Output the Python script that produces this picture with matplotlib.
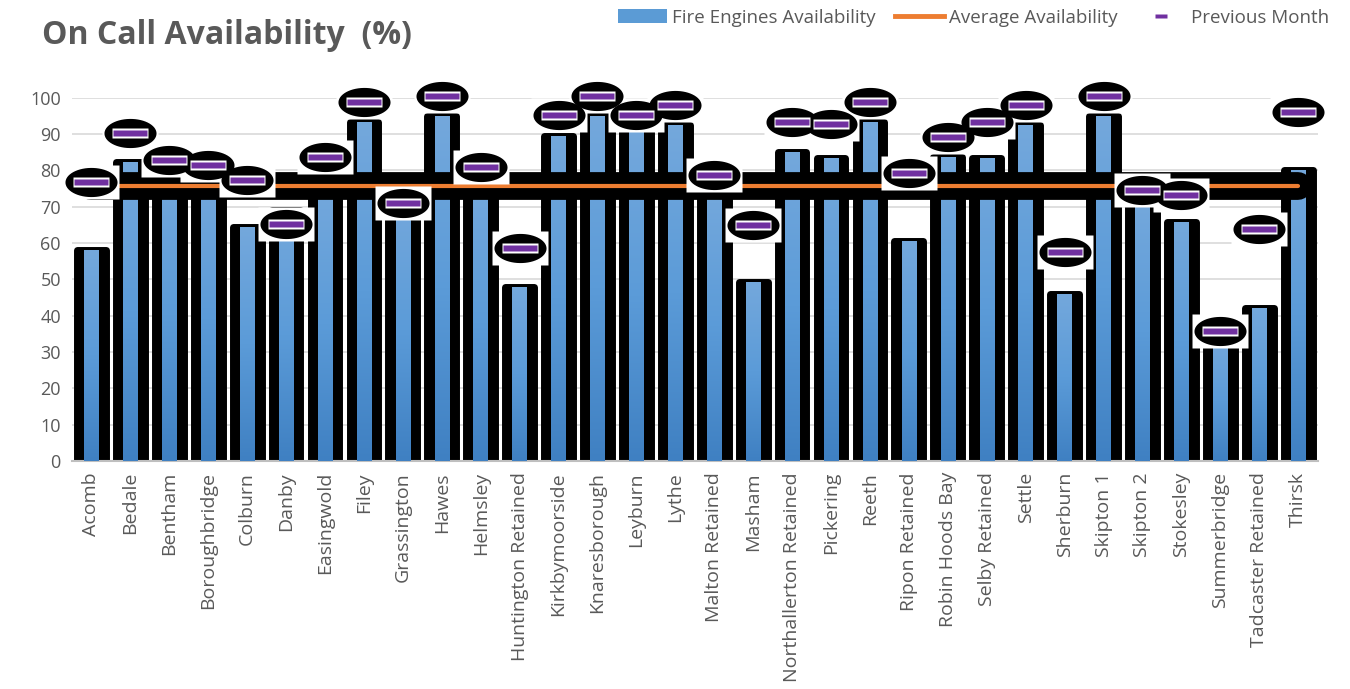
import numpy as np
import matplotlib
matplotlib.use("Agg")
import matplotlib.pyplot as plt
import matplotlib.patheffects as pe
from matplotlib.colors import LinearSegmentedColormap
from matplotlib.lines import Line2D
from matplotlib.patches import Patch
from matplotlib import font_manager as fm

stations = ["Acomb", "Bedale", "Bentham", "Boroughbridge", "Colburn", "Danby",
            "Easingwold", "Filey", "Grassington", "Hawes", "Helmsley",
            "Huntington Retained", "Kirkbymoorside", "Knaresborough", "Leyburn",
            "Lythe", "Malton Retained", "Masham", "Northallerton Retained",
            "Pickering", "Reeth", "Ripon Retained", "Robin Hoods Bay",
            "Selby Retained", "Settle", "Sherburn", "Skipton 1", "Skipton 2",
            "Stokesley", "Summerbridge", "Tadcaster Retained", "Thirsk"]
availability = [58.0, 82.2, 80.0, 78.0, 64.3, 69.0, 75.0, 93.3, 72.0, 94.9, 76.0,
                47.8, 89.6, 94.9, 90.8, 92.4, 74.0, 49.2, 85.0, 83.3, 93.3,
                60.7, 83.6, 83.3, 92.4, 46.1, 94.9, 71.0, 65.7, 33.0, 42.0, 80.2]
previous_month = [76.7, 90.2, 83.0, 81.4, 77.3, 65.3, 83.8, 98.9, 71.0, 100.4, 80.9,
                  58.6, 95.3, 100.4, 95.3, 97.9, 78.7, 64.9, 93.3, 92.7, 98.9,
                  79.3, 89.2, 93.3, 97.9, 57.6, 100.4, 74.7, 73.2, 35.9, 63.8, 96.2]
average_value = 75.8
average = [average_value] * len(stations)
yticks = list(range(0, 101, 10))

names = {f.name for f in fm.fontManager.ttflist}
narrow = "Liberation Sans Narrow" if "Liberation Sans Narrow" in names else "Open Sans"
tickfont = "Open Sans" if "Open Sans" in names else "DejaVu Sans"

GRAY = "#595959"
fig = plt.figure(figsize=(13.5, 6.89), dpi=100)
ax = fig.add_axes([0.0533, 0.331, 0.9227, 0.527])
x = np.arange(len(stations))

# black backing bars
ax.bar(x, availability, width=0.74, color="black", edgecolor="black",
       linewidth=5, joinstyle="round", zorder=2)
# gradient blue bars
cmap = LinearSegmentedColormap.from_list("b", ["#3f80c2", "#5b9bd8", "#74a8dc"])
grad = np.linspace(0, 1, 256).reshape(-1, 1)
bars = ax.bar(x, availability, width=0.37, color="#5b9bd5", linewidth=0, zorder=3)
for b in bars:
    x0 = b.get_x(); w = b.get_width(); h = b.get_height()
    im = ax.imshow(grad, extent=[x0, x0 + w, 0, h], origin="lower", aspect="auto",
                   cmap=cmap, zorder=3.1)
    im.set_clip_path(b)

# average line
ax.plot(x, average, color="#ed7d31", lw=3, zorder=4, solid_capstyle="round",
        path_effects=[pe.Stroke(linewidth=20, foreground="black", capstyle="round"),
                      pe.Normal()])

# previous month markers
def rect(rx, ry):
    return [(-rx, -ry), (rx, -ry), (rx, ry), (-rx, ry), (-rx, -ry)]
th = np.linspace(0, 2 * np.pi, 60)
ellipse = list(zip(np.cos(th), 0.56 * np.sin(th)))
ax.plot(x, previous_month, ls="none", marker=rect(1, 0.6), ms=40, mfc="white",
        mec="none", zorder=5, clip_on=False)
ax.plot(x, previous_month, ls="none", marker=ellipse, ms=37.5, mfc="black",
        mec="none", zorder=6, clip_on=False)
ax.plot(x, previous_month, ls="none", marker=rect(1, 0.27), ms=26.6, mfc="white",
        mec="none", zorder=7, clip_on=False)
ax.plot(x, previous_month, ls="none", marker=rect(1, 0.18), ms=23.8, mfc="#7030a0",
        mec="none", zorder=8, clip_on=False)

ax.set_xlim(-0.5, len(stations) - 0.5)
ax.set_ylim(0, 100)
ax.set_yticks(yticks)
ax.set_yticklabels([str(v) for v in yticks], fontsize=13, color=GRAY, family=tickfont)
ax.set_xticks(x)
ax.set_xticklabels(stations, rotation=90, fontsize=14, color=GRAY, family=tickfont)
ax.tick_params(axis="both", length=0, pad=8)
ax.grid(axis="y", color="#d9d9d9", lw=1.2, zorder=0)
ax.set_axisbelow(True)
for s in ["left", "right", "top"]:
    ax.spines[s].set_visible(False)
ax.spines["bottom"].set_color("#bfbfbf")
ax.spines["bottom"].set_linewidth(1.5)

fig.text(0.031, 0.948, "On Call Availability  (%)", fontsize=23, fontweight="bold",
         color=GRAY, family=narrow, va="center", ha="left")

handles = [Patch(facecolor="#5b9bd5", edgecolor="none"),
           Line2D([], [], color="#ed7d31", lw=3.5),
           Line2D([], [], ls="none", marker=rect(1, 0.25), ms=9, mfc="#7030a0", mec="none")]
labels = ["Fire Engines Availability", "Average Availability", "Previous Month"]
fig.legend(handles, labels, loc="upper right", bbox_to_anchor=(0.997, 1.012), ncol=3,
           frameon=False, prop={"family": narrow, "size": 13.5}, labelcolor=GRAY,
           handlelength=2.6, handletextpad=0.3, columnspacing=1.0)

fig.savefig("out.png", dpi=100)
